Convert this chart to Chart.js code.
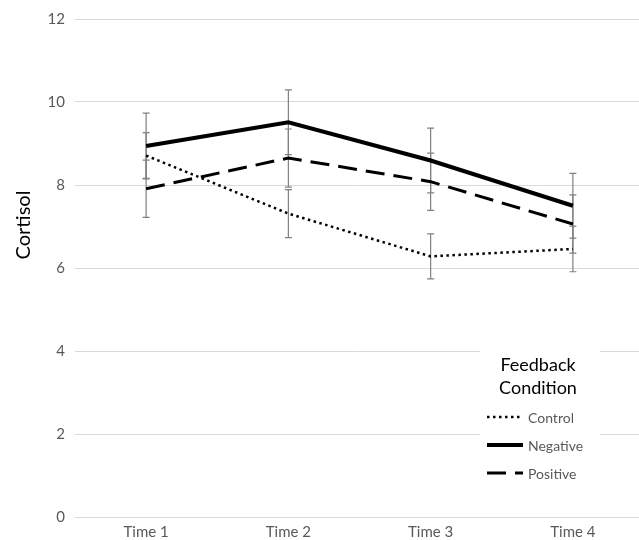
<!DOCTYPE html>
<html>
<head>
<meta charset="utf-8">
<script src="https://cdn.jsdelivr.net/npm/chart.js@4"></script>
<style>
  html, body { margin: 0; padding: 0; background: #fff; overflow: hidden; }
  #wrap { width: 646px; height: 540px; }
</style>
</head>
<body>
<div id="wrap"><canvas id="myChart1"></canvas></div>
<script>
// data
const times = ['Time 1', 'Time 2', 'Time 3', 'Time 4'];
const control_mean = [8.71, 7.31, 6.28, 6.46];
const control_err = [0.55, 0.58, 0.54, 0.55];
const negative_mean = [8.94, 9.51, 8.59, 7.50];
const negative_err = [0.79, 0.78, 0.78, 0.78];
const positive_mean = [7.91, 8.65, 8.08, 7.06];
const positive_err = [0.69, 0.70, 0.69, 0.70];
const y_ticks = [0, 2, 4, 6, 8, 10, 12];

const FONT = 'Lato, "Open Sans", sans-serif';
const errors = [control_err, negative_err, positive_err];

// grey error bars, drawn under the lines
const errorBars = {
    id: 'errorBars',
    beforeDatasetsDraw(chart) {
        const ctx = chart.ctx;
        const x = chart.scales.x, y = chart.scales.y;
        ctx.save();
        ctx.strokeStyle = '#808080';
        ctx.lineWidth = 1.2;
        chart.data.datasets.forEach((ds, i) => {
            ds.data.forEach((v, j) => {
                const px = x.getPixelForValue(j);
                const top = y.getPixelForValue(v + errors[i][j]);
                const bot = y.getPixelForValue(v - errors[i][j]);
                ctx.beginPath();
                ctx.moveTo(px, top); ctx.lineTo(px, bot);
                ctx.moveTo(px - 3.5, top); ctx.lineTo(px + 3.5, top);
                ctx.moveTo(px - 3.5, bot); ctx.lineTo(px + 3.5, bot);
                ctx.stroke();
            });
        });
        ctx.restore();
    }
};

// y title and the boxed legend
const extras = {
    id: 'extras',
    afterDraw(chart) {
        const ctx = chart.ctx;
        ctx.save();
        ctx.fillStyle = '#000';
        ctx.font = '20px ' + FONT;
        ctx.translate(24, 225);
        ctx.rotate(-Math.PI / 2);
        ctx.textAlign = 'center';
        ctx.textBaseline = 'middle';
        ctx.fillText('Cortisol', 0, 0);
        ctx.restore();

        ctx.save();
        ctx.fillStyle = '#fff';
        ctx.fillRect(480, 343, 120, 145);
        ctx.fillStyle = '#000';
        ctx.font = '18px ' + FONT;
        ctx.textAlign = 'center';
        ctx.textBaseline = 'middle';
        ctx.fillText('Feedback', 538, 365);
        ctx.fillText('Condition', 538, 388);
        const ys = [417, 445, 473];
        chart.data.datasets.forEach((ds, i) => {
            ctx.strokeStyle = '#000';
            ctx.lineWidth = ds.borderWidth;
            ctx.setLineDash(ds.borderDash || []);
            ctx.beginPath();
            ctx.moveTo(487, ys[i]);
            ctx.lineTo(523, ys[i]);
            ctx.stroke();
            ctx.setLineDash([]);
            ctx.fillStyle = '#595959';
            ctx.font = '14px ' + FONT;
            ctx.textAlign = 'left';
            ctx.fillText(ds.label, 528, ys[i] + 1);
        });
        ctx.restore();
    }
};

var ctx = document.getElementById('myChart1').getContext('2d');
var cortisol_chart = new Chart(ctx, {
    type: 'line',
    data: {
        labels: times,
        datasets: [{
            label: 'Control',
            data: control_mean,
            borderColor: '#000',
            borderWidth: 2.5,
            borderDash: [2.5, 3.5],
            pointRadius: 0,
            tension: 0
        },
        {
            label: 'Negative',
            data: negative_mean,
            borderColor: '#000',
            borderWidth: 4,
            pointRadius: 0,
            tension: 0
        },
        {
            label: 'Positive',
            data: positive_mean,
            borderColor: '#000',
            borderWidth: 3,
            borderDash: [19, 9],
            pointRadius: 0,
            tension: 0
        }]
    },
    options: {
        responsive: true,
        maintainAspectRatio: false,
        animation: false,
        layout: { padding: { top: 18, right: 2, left: 0, bottom: 0 } },
        plugins: {
            legend: { display: false },
            tooltip: { enabled: false }
        },
        scales: {
            x: {
                offset: true,
                grid: { display: false, drawTicks: false },
                border: { display: false },
                ticks: { color: '#595959', font: { family: FONT, size: 15 }, padding: 6 },
                afterFit(s) { s.height = 23; }
            },
            y: {
                min: 0,
                max: 12,
                afterBuildTicks(s) { s.ticks = y_ticks.map(v => ({ value: v })); },
                grid: { color: '#d9d9d9', lineWidth: 1, drawTicks: false },
                border: { display: false },
                ticks: { color: '#595959', font: { family: FONT, size: 15 }, padding: 10 },
                afterFit(s) { s.width = 75; }
            }
        }
    },
    plugins: [errorBars, extras]
});
</script>
</body>
</html>
